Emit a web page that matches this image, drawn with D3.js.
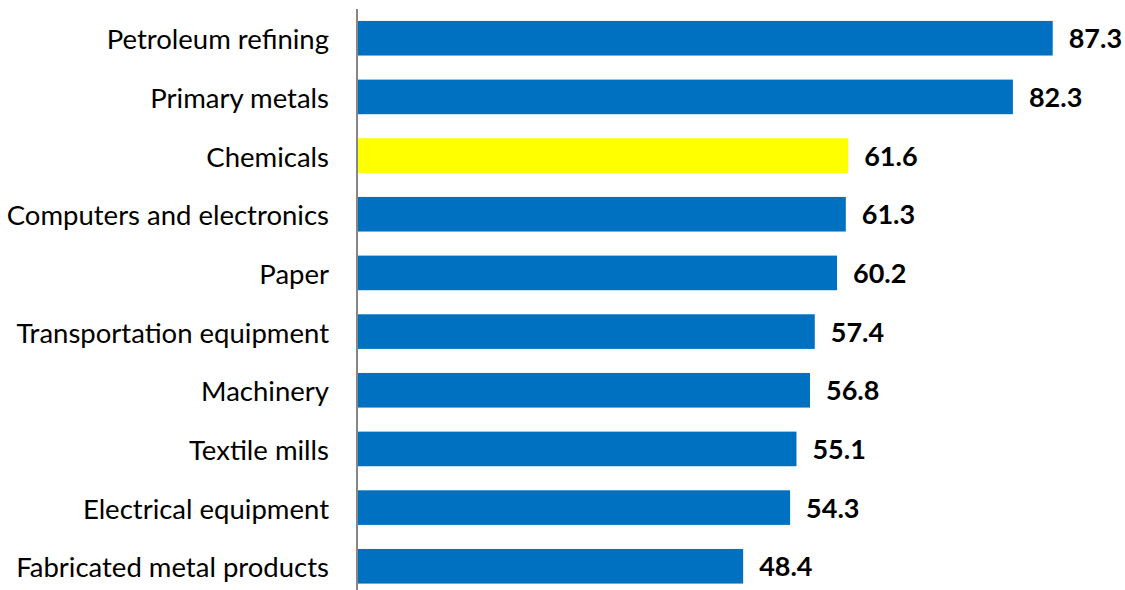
<!DOCTYPE html>
<html>
<head>
<meta charset="utf-8">
<script src="https://cdn.jsdelivr.net/npm/d3@7"></script>
<style>
  html, body { margin: 0; padding: 0; background: #ffffff; }
  svg { display: block; }
</style>
</head>
<body>
<svg id="chart" width="1125" height="590"></svg>
<script>
// Industry categories, top to bottom
const categories = [
  "Petroleum refining",
  "Primary metals",
  "Chemicals",
  "Computers and electronics",
  "Paper",
  "Transportation equipment",
  "Machinery",
  "Textile mills",
  "Electrical equipment",
  "Fabricated metal products"
];
const values = [87.3, 82.3, 61.6, 61.3, 60.2, 57.4, 56.8, 55.1, 54.3, 48.4];
const highlighted = ["Chemicals"];

const svg = d3.select("#chart");
const x0 = 358;

const x = d3.scaleLinear().domain([0, 87.3]).range([x0, 1052.7]);
const y = d3.scaleBand()
  .domain(categories)
  .range([8.9, 595.6])
  .paddingInner(0.41)
  .paddingOuter(0.205);

const data = categories.map((c, i) => ({ name: c, value: values[i] }));

// Bars
svg.append("g").selectAll("rect")
  .data(data)
  .join("rect")
  .attr("x", x(0))
  .attr("y", d => y(d.name))
  .attr("width", d => x(d.value) - x(0))
  .attr("height", y.bandwidth())
  .attr("fill", d => highlighted.includes(d.name) ? "#FFFF00" : "#0070C0");

// Category axis (left), no ticks
const axis = svg.append("g")
  .attr("transform", `translate(${x0 - 1},0)`)
  .call(d3.axisLeft(y).tickSize(0).tickPadding(28));
axis.select(".domain").remove();
axis.selectAll("text")
  .attr("fill", "#000")
  .attr("dy", "0.4em")
  .style("font-family", "Lato, 'Open Sans', sans-serif")
  .style("font-size", "27.5px");

svg.append("line")
  .attr("x1", x0 - 1).attr("x2", x0 - 1)
  .attr("y1", 9).attr("y2", 590)
  .attr("stroke", "#868686")
  .attr("stroke-width", 2);

// Value labels
svg.append("g").selectAll("text")
  .data(data)
  .join("text")
  .attr("x", d => x(d.value) + 16)
  .attr("y", d => y(d.name) + y.bandwidth() / 2)
  .attr("dy", "0.37em")
  .style("font-family", "Lato, 'Open Sans', sans-serif")
  .style("font-weight", "bold")
  .style("font-size", "27px")
  .attr("fill", "#000")
  .text(d => d.value.toFixed(1));
</script>
</body>
</html>
